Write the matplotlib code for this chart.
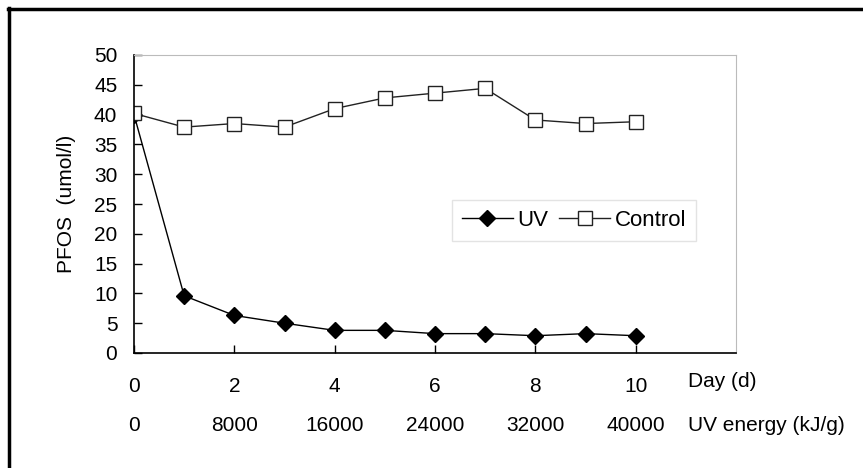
import matplotlib.pyplot as plt
from matplotlib.lines import Line2D

plt.rcParams['font.family'] = ['Liberation Sans', 'DejaVu Sans']

# data
days = [0, 1, 2, 3, 4, 5, 6, 7, 8, 9, 10]
uv = [40.0, 9.6, 6.3, 5.0, 3.8, 3.8, 3.25, 3.25, 2.9, 3.25, 2.9]
control = [40.2, 37.9, 38.5, 37.9, 41.0, 42.8, 43.6, 44.4, 39.1, 38.5, 38.8]

day_ticks = [0, 2, 4, 6, 8, 10]
energy_ticks = [0, 8000, 16000, 24000, 32000, 40000]
kj_per_day = 4000

fig = plt.figure(figsize=(8.63, 4.68), dpi=100)
ax = fig.add_axes([134 / 863, 1 - 353 / 468, 602 / 863, 298 / 468])

ax.plot(days, uv, color='black', lw=1.0, marker='D', ms=8,
        mfc='black', mec='black', label='UV')
ax.plot(days, control, color='#222222', lw=1.0, marker='s', ms=9.5,
        mfc='white', mec='#222222', mew=1.0, label='Control')

ax.set_xlim(0, 12)
ax.set_ylim(0, 50)
ax.set_yticks(range(0, 51, 5))
ax.set_xticks(day_ticks)
ax.tick_params(axis='y', direction='in', length=6, width=1, pad=12, labelsize=15)
ax.tick_params(axis='x', direction='in', length=6, width=1, pad=17, labelsize=15)

for s in ['top', 'right']:
    ax.spines[s].set_color('#bbbbbb')
for s in ['left', 'bottom']:
    ax.spines[s].set_color('black')
    ax.spines[s].set_linewidth(1.2)

ax.set_ylabel('PFOS  (umol/l)', fontsize=15, labelpad=13)

# second row of x labels: UV energy
xt = ax.get_xaxis_transform()
for e in energy_ticks:
    ax.text(e / kj_per_day, -0.242, str(e), transform=xt,
            ha='center', va='center', fontsize=15)
ax.text(11.04, -0.094, 'Day (d)', transform=xt,
        ha='left', va='center', fontsize=15, clip_on=False)
ax.text(11.04, -0.242, 'UV energy (kJ/g)', transform=xt,
        ha='left', va='center', fontsize=15, clip_on=False)

leg = ax.legend(loc='center', bbox_to_anchor=(0.731, 0.446), ncol=2,
                fontsize=16, frameon=True, fancybox=False, handlelength=2.3,
                handletextpad=0.2, columnspacing=0.5, borderpad=0.45)
leg.get_frame().set_edgecolor('#dddddd')
leg.get_frame().set_linewidth(1.0)

# outer frame (top and left edges)
fig.add_artist(Line2D([8 / 863, 1.0], [1 - 9 / 468, 1 - 9 / 468], color='black', lw=2.5,
                      transform=fig.transFigure))
fig.add_artist(Line2D([9 / 863, 9 / 863], [0.0, 1 - 8 / 468], color='black', lw=2.5,
                      transform=fig.transFigure))

fig.savefig('out.png', dpi=100)
